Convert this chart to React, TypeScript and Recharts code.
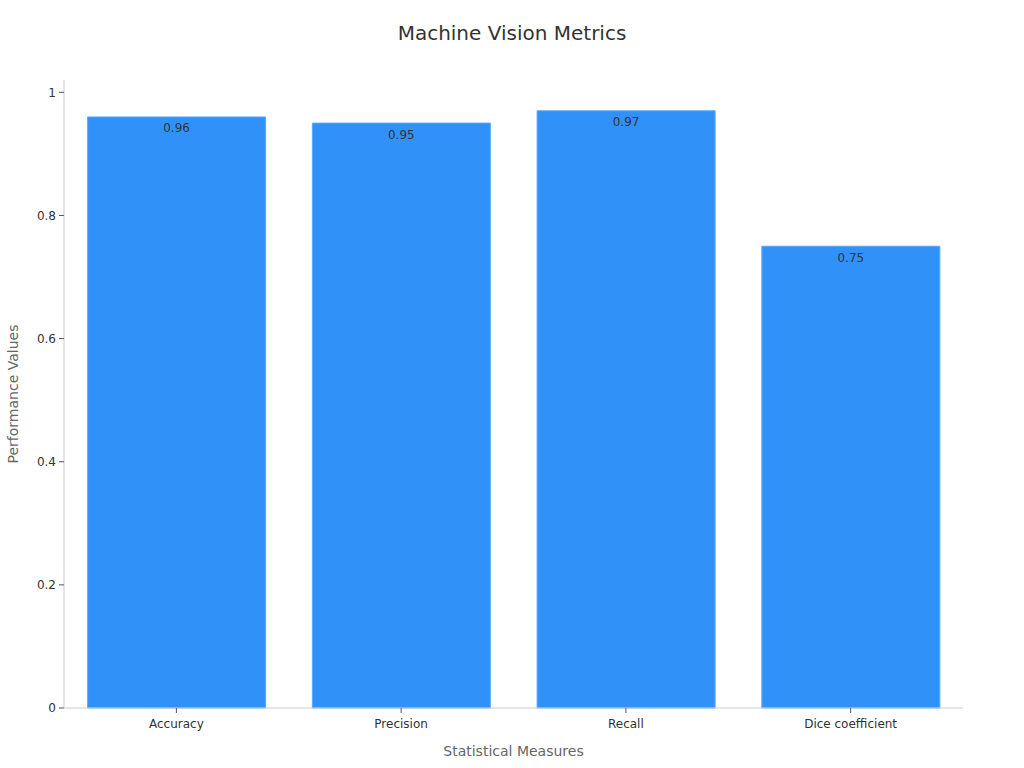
import { BarChart, Bar, XAxis, YAxis, LabelList } from "recharts";

const categories = ["Accuracy", "Precision", "Recall", "Dice coefficient"];
const values = [0.96, 0.95, 0.97, 0.75];
const yTicks = [0, 0.2, 0.4, 0.6, 0.8, 1];

const data = categories.map((name, i) => ({ name, value: values[i] }));

const FONT = "'DejaVu Sans', sans-serif";

const App = () => (
  <div style={{ position: "absolute", left: 0, top: 0, width: 1024, height: 768, fontFamily: FONT }}>
    <div
      style={{
        position: "absolute",
        top: 21,
        width: 1024,
        textAlign: "center",
        fontSize: 20,
        color: "#333",
      }}
    >
      Machine Vision Metrics
    </div>
    <BarChart
      width={1024}
      height={768}
      data={data}
      margin={{ top: 80, right: 61, bottom: 0, left: 0 }}
      barCategoryGap="10.5%"
    >
      <XAxis
        dataKey="name"
        height={60}
        stroke="#ccc"
        tickSize={5}
        tickMargin={6}
        tick={{ fill: "#333", fontSize: 12, fontFamily: FONT }}
        tickLine={{ stroke: "#555" }}
        label={{
          value: "Statistical Measures",
          position: "insideBottom",
          offset: 12,
          fill: "#666",
          fontSize: 14,
          fontFamily: FONT,
        }}
      />
      <YAxis
        width={64}
        domain={[0, 1.02]}
        ticks={yTicks}
        interval={0}
        stroke="#ccc"
        tickSize={5}
        tickMargin={3}
        tick={{ fill: "#333", fontSize: 12, fontFamily: FONT }}
        tickLine={{ stroke: "#555" }}
        label={{
          value: "Performance Values",
          angle: -90,
          position: "insideLeft",
          offset: 13,
          fill: "#666",
          fontSize: 14,
          fontFamily: FONT,
          style: { textAnchor: "middle" },
        }}
      />
      <Bar dataKey="value" fill="#3092F8" stroke="#5ba8f9" strokeWidth={1} isAnimationActive={false}>
        <LabelList
          dataKey="value"
          position="insideTop"
          offset={7}
          fill="#333"
          fontSize={12}
          fontFamily={FONT}
        />
      </Bar>
    </BarChart>
  </div>
);

export default App;
